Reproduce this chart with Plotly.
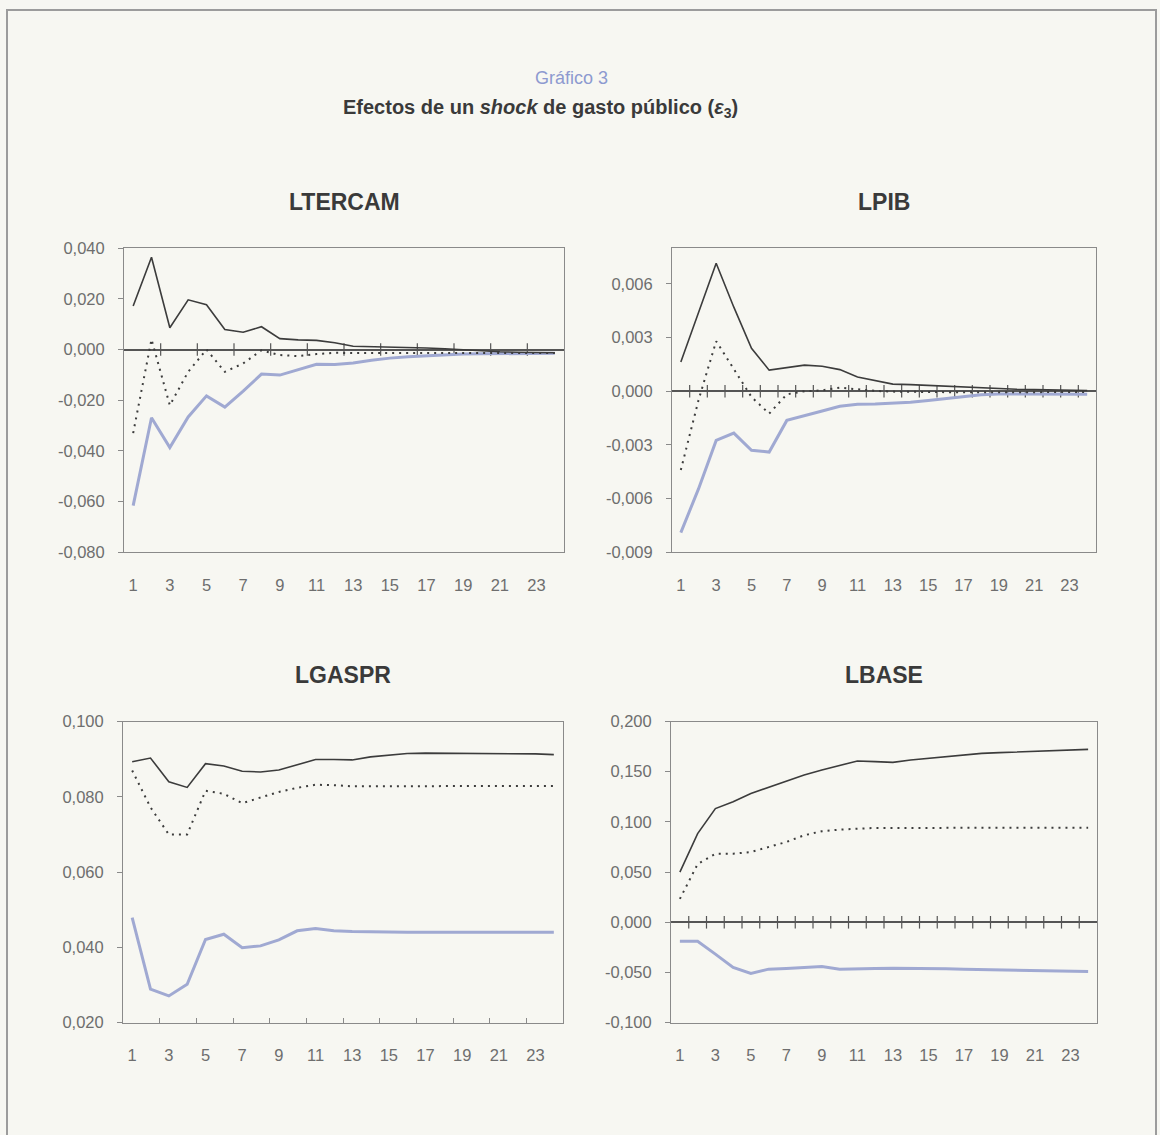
import plotly.graph_objects as go

# Horizon (periods after the shock)
periods = list(range(1, 25))
xtick_vals = list(range(1, 24, 2))

# LTERCAM: upper band, point estimate, lower band
ltercam_upper = [0.0172, 0.0364, 0.0086, 0.0196, 0.0177, 0.0079, 0.0068, 0.0090, 0.0043, 0.0038,
                 0.0036, 0.0027, 0.0013, 0.0012, 0.0011, 0.0009, 0.0006, 0.0003, -0.0002, -0.0006,
                 -0.0009, -0.0011, -0.0012, -0.0013]
ltercam_mid = [-0.0330, 0.0040, -0.0220, -0.0088, 0.0000, -0.0088, -0.0055, -0.0003, -0.0022, -0.0026,
               -0.0018, -0.0013, -0.0014, -0.0014, -0.0015, -0.0014, -0.0014, -0.0015, -0.0014, -0.0014,
               -0.0015, -0.0014, -0.0014, -0.0014]
ltercam_lower = [-0.0616, -0.0269, -0.0387, -0.0266, -0.0183, -0.0227, -0.0164, -0.0097, -0.0101, -0.0081,
                 -0.0058, -0.0059, -0.0053, -0.0042, -0.0034, -0.0029, -0.0025, -0.0021, -0.0018, -0.0017,
                 -0.0016, -0.0016, -0.0015, -0.0015]

# LPIB
lpib_upper = [0.00164, 0.00440, 0.00716, 0.00470, 0.00240, 0.00118, 0.00133, 0.00146, 0.00140, 0.00121,
              0.00080, 0.00058, 0.00040, 0.00037, 0.00032, 0.00028, 0.00022, 0.00017, 0.00013, 0.00011,
              0.00010, 0.00008, 0.00006, 0.00004]
lpib_mid = [-0.00440, -0.00050, 0.00280, 0.00127, -0.00032, -0.00125, -0.00017, 0.00000, 0.00005, 0.00020,
            0.00010, 0.00002, -0.00002, -0.00004, -0.00005, -0.00006, -0.00006, -0.00006, -0.00005, -0.00005,
            -0.00004, -0.00004, -0.00004, -0.00004]
lpib_lower = [-0.00790, -0.00546, -0.00275, -0.00234, -0.00330, -0.00340, -0.00163, -0.00135, -0.00110, -0.00084,
              -0.00073, -0.00071, -0.00067, -0.00062, -0.00052, -0.00041, -0.00028, -0.00019, -0.00015, -0.00016,
              -0.00016, -0.00016, -0.00017, -0.00017]

# LGASPR
lgaspr_upper = [0.0893, 0.0903, 0.0840, 0.0825, 0.0888, 0.0882, 0.0868, 0.0866, 0.0871, 0.0884,
                0.0899, 0.0899, 0.0898, 0.0906, 0.0911, 0.0915, 0.0916, 0.0916, 0.0916, 0.0915,
                0.0915, 0.0915, 0.0914, 0.0912]
lgaspr_mid = [0.0870, 0.0772, 0.0700, 0.0700, 0.0816, 0.0808, 0.0783, 0.0798, 0.0813, 0.0824,
              0.0832, 0.0831, 0.0828, 0.0828, 0.0828, 0.0828, 0.0828, 0.0828, 0.0829, 0.0829,
              0.0829, 0.0829, 0.0829, 0.0829]
lgaspr_lower = [0.0479, 0.0289, 0.0271, 0.0302, 0.0421, 0.0435, 0.0399, 0.0404, 0.0420, 0.0444,
                0.0450, 0.0444, 0.0442, 0.0441, 0.0440, 0.0440, 0.0440, 0.0440, 0.0440, 0.0440,
                0.0440, 0.0440, 0.0440, 0.0440]

# LBASE
lbase_upper = [0.0500, 0.0883, 0.1133, 0.1200, 0.1283, 0.1343, 0.1400, 0.1467, 0.1517, 0.1560,
               0.1607, 0.1600, 0.1593, 0.1617, 0.1633, 0.1650, 0.1670, 0.1683, 0.1690, 0.1697,
               0.1700, 0.1710, 0.1717, 0.1723]
lbase_mid = [0.0233, 0.0580, 0.0683, 0.0683, 0.0700, 0.0750, 0.0800, 0.0867, 0.0907, 0.0923,
             0.0933, 0.0940, 0.0940, 0.0940, 0.0941, 0.0941, 0.0941, 0.0941, 0.0942, 0.0942,
             0.0942, 0.0942, 0.0942, 0.0942]
lbase_lower = [-0.0190, -0.0190, -0.0317, -0.0450, -0.0510, -0.0467, -0.0460, -0.0450, -0.0440, -0.0467,
               -0.0460, -0.0460, -0.0457, -0.0457, -0.0460, -0.0463, -0.0467, -0.0470, -0.0473, -0.0477,
               -0.0480, -0.0483, -0.0487, -0.0490]

# Y-axis tick values per panel
ltercam_ticks = [-0.080, -0.060, -0.040, -0.020, 0.000, 0.020, 0.040]
lpib_ticks = [-0.009, -0.006, -0.003, 0.000, 0.003, 0.006]
lgaspr_ticks = [0.020, 0.040, 0.060, 0.080, 0.100]
lbase_ticks = [-0.100, -0.050, 0.000, 0.050, 0.100, 0.150, 0.200]

W, H = 1160, 1135
BG = "#f7f7f2"
DARK = "#3c3c3c"
BLUE = "#a0a9d2"
AXIS = "#8a8a8a"
FONT = "Liberation Sans, Arial, sans-serif"
TICKFONT = dict(family=FONT, size=16.5, color="#6e6e6e")


def fmt(v):
    return f"{v:.3f}".replace(".", ",")


panels = [
    # name, upper, mid, lower, ticks, yrange, box (px: left, top, right, bottom), zero-line tick step
    ("LTERCAM", ltercam_upper, ltercam_mid, ltercam_lower, ltercam_ticks, [-0.080, 0.040], (124, 243, 564, 552), 2),
    ("LPIB", lpib_upper, lpib_mid, lpib_lower, lpib_ticks, [-0.009, 0.008], (672, 243, 1096, 552), 1),
    ("LGASPR", lgaspr_upper, lgaspr_mid, lgaspr_lower, lgaspr_ticks, [0.020, 0.100], (123, 724, 563, 1030), None),
    ("LBASE", lbase_upper, lbase_mid, lbase_lower, lbase_ticks, [-0.100, 0.200], (671, 724, 1097, 1030), 1),
]

fig = go.Figure()
layout = dict(
    width=W, height=H,
    margin=dict(l=0, r=0, t=0, b=0),
    paper_bgcolor=BG, plot_bgcolor=BG,
    showlegend=False,
    annotations=[], shapes=[],
)

for i, (name, up, mid, lo, yt, yr, box, step) in enumerate(panels, start=1):
    xa = "x" if i == 1 else f"x{i}"
    ya = "y" if i == 1 else f"y{i}"
    left, top, right, bottom = box
    xdom = [left / W, right / W]
    ydom = [1 - bottom / H, 1 - top / H]

    boundaries = [p + 0.5 for p in periods[:-1]]

    xaxis = dict(
        domain=xdom, anchor=ya, range=[0.5, 24.5],
        tickvals=xtick_vals, ticktext=[str(v) for v in xtick_vals],
        ticks="", showgrid=False, zeroline=False,
        showline=True, linecolor=AXIS, linewidth=1, mirror=True,
        tickfont=TICKFONT, ticklabelstandoff=18, fixedrange=True,
    )
    if step is None:
        xaxis["minor"] = dict(tickvals=boundaries[1::2], ticks="inside", ticklen=5,
                              tickcolor=AXIS, tickwidth=1, showgrid=False)
    yaxis = dict(
        domain=ydom, anchor=xa, range=yr,
        tickvals=yt, ticktext=[fmt(v) for v in yt],
        ticks="outside", ticklen=5, tickcolor=AXIS, tickwidth=1,
        showgrid=False, zeroline=(yr[0] < 0 < yr[1]), zerolinecolor="#555555", zerolinewidth=1.5,
        showline=True, linecolor=AXIS, linewidth=1, mirror=True,
        tickfont=TICKFONT, ticklabelstandoff=10, fixedrange=True,
    )
    layout["xaxis" if i == 1 else f"xaxis{i}"] = xaxis
    layout["yaxis" if i == 1 else f"yaxis{i}"] = yaxis

    # tick marks crossing the zero line
    if step is not None:
        tick_x = boundaries[step - 1::step]
        fig.add_trace(go.Scatter(
            x=tick_x, y=[0] * len(tick_x), xaxis=xa, yaxis=ya, mode="markers",
            marker=dict(symbol="line-ns", size=9, line=dict(color="#555555", width=1.2)),
            hoverinfo="skip",
        ))

    fig.add_trace(go.Scatter(x=periods, y=lo, xaxis=xa, yaxis=ya, mode="lines",
                             line=dict(color=BLUE, width=3)))
    fig.add_trace(go.Scatter(x=periods, y=mid, xaxis=xa, yaxis=ya, mode="lines",
                             line=dict(color=DARK, width=2, dash="2px,5px")))
    fig.add_trace(go.Scatter(x=periods, y=up, xaxis=xa, yaxis=ya, mode="lines",
                             line=dict(color=DARK, width=1.6)))

    # panel title
    layout["annotations"].append(dict(
        text=f"<b>{name}</b>", xref="paper", yref="paper",
        x=(left + right) / 2 / W, y=1 - (top - 47) / H,
        xanchor="center", yanchor="middle", showarrow=False,
        font=dict(family=FONT, size=23, color="#3a3a3a"),
    ))

# chart heading
layout["annotations"].append(dict(
    text="Gráfico 3", xref="paper", yref="paper", x=571 / W, y=1 - 70 / H,
    xanchor="center", yanchor="middle", showarrow=False,
    font=dict(family=FONT, size=18, color="#8d9ad0"),
))
layout["annotations"].append(dict(
    text="<b>Efectos de un <i>shock</i> de gasto público (<i>ε</i><sub>3</sub>)</b>",
    xref="paper", yref="paper", x=540 / W, y=1 - 101 / H,
    xanchor="center", yanchor="middle", showarrow=False,
    font=dict(family=FONT, size=20, color="#3a3a3a"),
))

# outer frame
layout["shapes"].append(dict(
    type="rect", xref="paper", yref="paper",
    x0=7 / W, x1=1156 / W, y0=-0.02, y1=1 - 1 / H,
    line=dict(color="#9c9c9c", width=2), fillcolor="rgba(0,0,0,0)", layer="below",
))

fig.update_layout(**layout)
fig.write_html("out.html")
